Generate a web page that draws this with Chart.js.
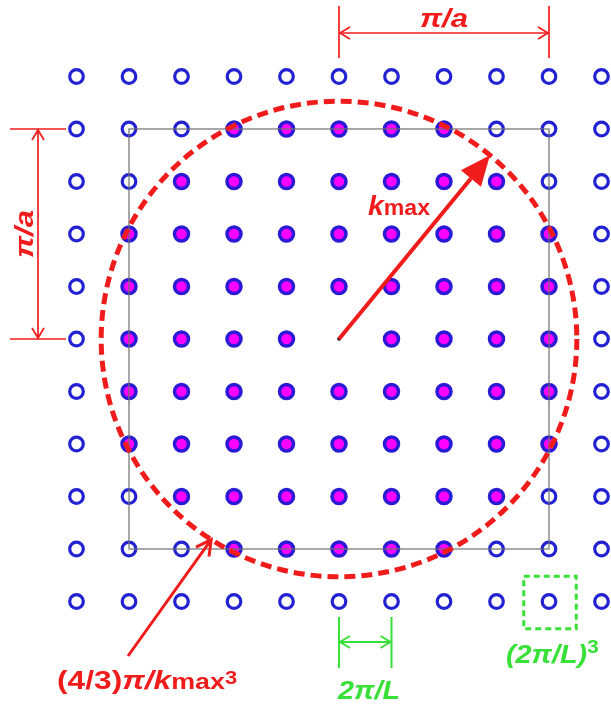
<!DOCTYPE html>
<html>
<head>
<meta charset="utf-8">
<script src="https://cdn.jsdelivr.net/npm/chart.js@4"></script>
<style>
  html, body { margin: 0; padding: 0; background: #fff; }
  #wrap { width: 611px; height: 707px; position: relative; }
</style>
</head>
<body>
<div id="wrap"><canvas id="c"></canvas></div>
<script>
// Reciprocal-lattice coordinates, in units of 2π/L
const kxValues = [-5, -4, -3, -2, -1, 0, 1, 2, 3, 4, 5];
const kyValues = [5, 4, 3, 2, 1, 0, -1, -2, -3, -4, -5];
// Half-width of the run of occupied states on each row (top to bottom); -1 = no occupied state
const occupiedHalfWidth = [-1, 2, 3, 4, 4, 4, 4, 4, 3, 2, -1];
// Sphere radius k_max and half-width π/a of the zone, both in units of 2π/L
const kMax = 4.53;
const zoneHalf = 4;
// Directions of the two arrows that point at the sphere (degrees)
const kMaxArrowAngle = 50.6;
const volumeArrowAngle = 237.5;
// Single-state cell that is boxed, and the spacing that is dimensioned
const cellCenter = { x: 4, y: -5 };
const spacingFrom = 0, spacingTo = 1;

const occupied = [], empty = [];
kyValues.forEach((ky, r) => {
  kxValues.forEach(kx => {
    if (kx === 0 && ky === 0) return;
    (Math.abs(kx) <= occupiedHalfWidth[r] ? occupied : empty).push({ x: kx, y: ky });
  });
});
const origin = [{ x: 0, y: 0 }];

const RED = '#f01c1c', GREEN = '#38e038', BLUE = '#2222d2';
const FONT = '"Liberation Sans", Arial, sans-serif';

function runs(ctx, x, y, parts, sx) {
  ctx.save();
  ctx.translate(x, y);
  ctx.scale(sx || 1, 1);
  ctx.textBaseline = 'alphabetic';
  ctx.textAlign = 'left';
  let cx = 0;
  parts.forEach(p => {
    ctx.font = p.f;
    ctx.fillText(p.t, cx, p.dy || 0);
    cx += ctx.measureText(p.t).width;
  });
  ctx.restore();
}
function runsWidth(ctx, parts) {
  let w = 0;
  parts.forEach(p => { ctx.font = p.f; w += ctx.measureText(p.t).width; });
  return w;
}
function chevron(ctx, x, y, ang, len, half) {
  // open arrowhead with its tip at (x, y) pointing along ang
  const bx = x - len * Math.cos(ang), by = y - len * Math.sin(ang);
  const nx = -Math.sin(ang) * half, ny = Math.cos(ang) * half;
  ctx.beginPath();
  ctx.moveTo(bx + nx, by + ny);
  ctx.lineTo(x, y);
  ctx.lineTo(bx - nx, by - ny);
  ctx.stroke();
}
function dimArrow(ctx, x1, y1, x2, y2) {
  ctx.beginPath(); ctx.moveTo(x1, y1); ctx.lineTo(x2, y2); ctx.stroke();
  const a = Math.atan2(y2 - y1, x2 - x1);
  chevron(ctx, x2, y2, a, 10, 6);
  chevron(ctx, x1, y1, a + Math.PI, 10, 6);
}

const overlay = {
  id: 'overlay',
  afterDatasetsDraw(chart) {
    const ctx = chart.ctx;
    const xs = chart.scales.x, ys = chart.scales.y;
    const px = v => xs.getPixelForValue(v), py = v => ys.getPixelForValue(v);
    const unit = px(1) - px(0);
    const cx = px(0), cy = py(0);
    ctx.save();
    ctx.lineCap = 'butt';

    // zone boundary
    ctx.strokeStyle = 'rgba(110,110,110,0.75)';
    ctx.lineWidth = 1.6;
    ctx.strokeRect(px(-zoneHalf), py(zoneHalf), px(zoneHalf) - px(-zoneHalf), py(-zoneHalf) - py(zoneHalf));

    // Fermi sphere
    ctx.strokeStyle = RED;
    ctx.lineWidth = 5;
    ctx.setLineDash([11, 6]);
    ctx.beginPath();
    ctx.arc(cx, cy, kMax * unit, 0, Math.PI * 2);
    ctx.stroke();
    ctx.setLineDash([]);

    // k_max arrow
    const a1 = kMaxArrowAngle * Math.PI / 180;
    const tx = px(kMax * Math.cos(a1)), ty = py(kMax * Math.sin(a1));
    const ang = Math.atan2(ty - cy, tx - cx);
    const hl = 30, hw = 13;
    const bx = tx - hl * Math.cos(ang), by = ty - hl * Math.sin(ang);
    ctx.fillStyle = RED;
    ctx.lineWidth = 4;
    ctx.beginPath(); ctx.moveTo(cx, cy); ctx.lineTo(bx, by); ctx.stroke();
    ctx.beginPath();
    ctx.moveTo(tx, ty);
    ctx.lineTo(bx - Math.sin(ang) * hw, by + Math.cos(ang) * hw);
    ctx.lineTo(bx + Math.sin(ang) * hw, by - Math.cos(ang) * hw);
    ctx.closePath(); ctx.fill();
    runs(ctx, 368, 215, [
      { t: 'k', f: 'italic bold 27px ' + FONT },
      { t: 'max', f: 'bold 22px ' + FONT }
    ], 1.05);

    // volume-of-sphere arrow
    const a2 = volumeArrowAngle * Math.PI / 180;
    const vx = px(kMax * Math.cos(a2)), vy = py(kMax * Math.sin(a2));
    ctx.lineWidth = 3;
    ctx.beginPath(); ctx.moveTo(128, 656); ctx.lineTo(vx, vy); ctx.stroke();
    chevron(ctx, vx, vy, Math.atan2(vy - 656, vx - 128), 15, 8);
    runs(ctx, 57, 689, [
      { t: '(4/3)', f: 'bold 26px ' + FONT },
      { t: 'π/k', f: 'italic bold 26px ' + FONT },
      { t: 'max', f: 'bold 22px ' + FONT },
      { t: '3', f: 'bold 18px ' + FONT, dy: -5 }
    ], 1.22);

    // π/a along the top
    ctx.lineWidth = 1.7;
    ctx.beginPath();
    ctx.moveTo(px(0), 6); ctx.lineTo(px(0), 58);
    ctx.moveTo(px(zoneHalf), 6); ctx.lineTo(px(zoneHalf), 58);
    ctx.stroke();
    dimArrow(ctx, px(0) + 1, 33, px(zoneHalf) - 1, 33);
    const piA = [{ t: 'π/a', f: 'italic bold 26px ' + FONT }];
    const wTop = runsWidth(ctx, piA) * 1.2;
    runs(ctx, px(zoneHalf / 2) - wTop / 2, 27, piA, 1.2);

    // π/a down the left side
    ctx.beginPath();
    ctx.moveTo(10, py(zoneHalf)); ctx.lineTo(66, py(zoneHalf));
    ctx.moveTo(10, py(0)); ctx.lineTo(66, py(0));
    ctx.stroke();
    dimArrow(ctx, 38, py(zoneHalf) + 1, 38, py(0) - 1);
    ctx.save();
    ctx.translate(33, py(zoneHalf / 2));
    ctx.rotate(-Math.PI / 2);
    runs(ctx, -wTop / 2, 0, piA, 1.2);
    ctx.restore();

    // 2π/L spacing
    ctx.strokeStyle = GREEN;
    ctx.fillStyle = GREEN;
    ctx.lineWidth = 2;
    ctx.beginPath();
    ctx.moveTo(px(spacingFrom), 617); ctx.lineTo(px(spacingFrom), 668);
    ctx.moveTo(px(spacingTo), 617); ctx.lineTo(px(spacingTo), 668);
    ctx.stroke();
    dimArrow(ctx, px(spacingFrom) + 1, 642, px(spacingTo) - 1, 642);
    runs(ctx, 338, 699, [{ t: '2π/L', f: 'italic bold 25px ' + FONT }], 1.15);

    // volume per state
    const half = 0.5 * unit;
    ctx.lineWidth = 3;
    ctx.setLineDash([6, 4]);
    ctx.strokeRect(px(cellCenter.x) - half + 1, py(cellCenter.y) - half + 1, 2 * half, 2 * half);
    ctx.setLineDash([]);
    runs(ctx, 506, 663, [
      { t: '(2π/L)', f: 'italic bold 25px ' + FONT },
      { t: '3', f: 'bold 18px ' + FONT, dy: -10 }
    ], 1.15);

    ctx.restore();
  }
};

new Chart(document.getElementById('c'), {
  type: 'scatter',
  data: {
    datasets: [
      { label: 'occupied', data: occupied, backgroundColor: '#ff00ff', borderColor: '#2a1ad6',
        pointRadius: 7, borderWidth: 3.5, clip: false },
      { label: 'empty', data: empty, backgroundColor: 'rgba(255,255,255,0)', borderColor: BLUE,
        pointRadius: 6.8, borderWidth: 3.2, clip: false },
      { label: 'origin', data: origin, backgroundColor: '#111', borderColor: '#111',
        pointRadius: 1.8, borderWidth: 0, clip: false }
    ]
  },
  options: {
    responsive: true,
    maintainAspectRatio: false,
    animation: false,
    events: [],
    layout: { padding: 0, autoPadding: false },
    plugins: { legend: { display: false }, tooltip: { enabled: false } },
    scales: {
      x: { type: 'linear', min: -6.4571, max: 5.1810, display: false },
      y: { type: 'linear', min: -7.0095, max: 6.4571, display: false }
    }
  },
  plugins: [overlay]
});
</script>
</body>
</html>
